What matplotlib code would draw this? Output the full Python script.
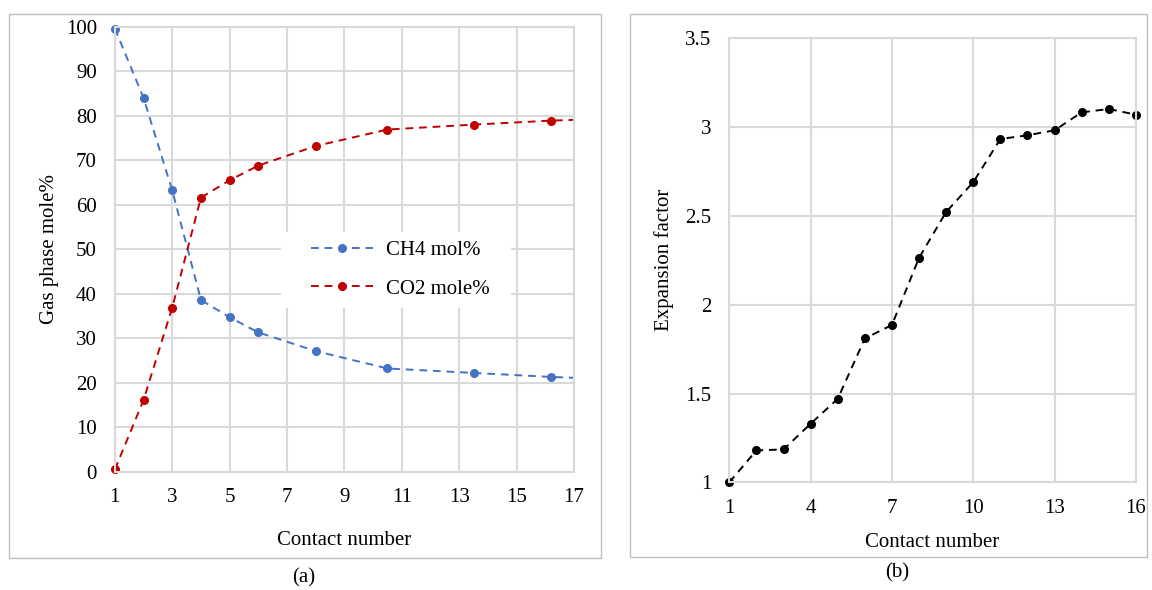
import matplotlib.pyplot as plt
from matplotlib.patches import Rectangle
import numpy as np

plt.rcParams['font.family'] = ['Liberation Serif', 'DejaVu Serif']
plt.rcParams['font.size'] = 15

# (a) gas phase composition vs contact number
contact_a = [1, 2, 3, 4, 5, 6, 8, 10.5, 13.5, 16.2, 19]
ch4 = [99.6, 84.0, 63.2, 38.6, 34.7, 31.3, 27.1, 23.2, 22.2, 21.3, 20.6]
co2 = [0.5, 16.1, 36.9, 61.6, 65.5, 68.8, 73.2, 76.9, 78.0, 78.9, 79.5]

# (b) expansion factor
contact_b = list(range(1, 17))
expansion = [1.0, 1.18, 1.185, 1.33, 1.47, 1.81, 1.886, 2.264, 2.522, 2.69,
             2.933, 2.954, 2.982, 3.083, 3.102, 3.07]

grid_c = '#d9d9d9'
blue = '#4472C4'
red = '#C00000'

fig = plt.figure(figsize=(11.52, 5.9), dpi=100)

# panel frames
fig.patches.append(Rectangle((8.5/1152, 1-558/590), (601-8.5)/1152, (558-13.5)/590,
                             transform=fig.transFigure, fill=False, ec='#bfbfbf', lw=1))
fig.patches.append(Rectangle((629.5/1152, 1-557/590), (1147-629.5)/1152, (557-13.5)/590,
                             transform=fig.transFigure, fill=False, ec='#bfbfbf', lw=1))

def style(ax):
    ax.grid(True, color=grid_c, lw=1.5)
    ax.set_axisbelow(True)
    for s in ax.spines.values():
        s.set_color(grid_c)
        s.set_linewidth(1.5)
    ax.tick_params(length=0, labelsize=15)

ax1 = fig.add_axes([0.0997, 0.2005, 0.3986, 0.7542])
style(ax1)
x = np.array(contact_a)
inside = x <= 17
ax1.plot(contact_a, ch4, ls='--', color=blue, lw=1.4, dashes=(4, 3))
ax1.plot(contact_a, co2, ls='--', color=red, lw=1.4, dashes=(4, 3))
ax1.plot(x[inside], np.array(ch4)[inside], 'o', color=blue, ms=5.5, clip_on=False)
ax1.plot(x[inside], np.array(co2)[inside], 'o', color=red, ms=5.5, clip_on=False)
h1, = ax1.plot([], [], ls='--', dashes=(4, 3), color=blue, lw=1.4, marker='o', ms=5.5)
h2, = ax1.plot([], [], ls='--', dashes=(4, 3), color=red, lw=1.4, marker='o', ms=5.5)
ax1.set_xlim(1, 17)
ax1.set_ylim(0, 100)
ax1.set_xticks(range(1, 18, 2))
ax1.set_yticks(range(0, 101, 10))
ax1.tick_params(axis='y', pad=13)
ax1.tick_params(axis='x', pad=12)
ax1.set_xlabel('Contact number', labelpad=17)
ax1.set_ylabel('Gas phase mole%', labelpad=5)
# white legend background
ax1.add_patch(Rectangle((0.362, 0.368), 0.501, 0.171, transform=ax1.transAxes,
                        fc='white', ec='none', zorder=1.5))
leg = ax1.legend([h1, h2], ['CH4 mol%', 'CO2 mole%'], loc='center',
                 bbox_to_anchor=(0.621, 0.454), handlelength=3.0, handletextpad=0.6,
                 labelspacing=0.9, frameon=False, borderaxespad=0)

ax2 = fig.add_axes([0.6331, 0.1825, 0.3529, 0.7526])
style(ax2)
ax2.plot(contact_b, expansion, ls='--', dashes=(4, 3), color='black', lw=1.4,
         marker='o', ms=5.5, clip_on=False)
ax2.set_xlim(1, 16)
ax2.set_ylim(1, 3.5)
ax2.set_xticks(range(1, 17, 3))
ax2.set_yticks([1, 1.5, 2, 2.5, 3, 3.5])
ax2.set_yticklabels(['1', '1.5', '2', '2.5', '3', '3.5'])
ax2.tick_params(axis='y', pad=13)
ax2.tick_params(axis='x', pad=12)
ax2.set_xlabel('Contact number', labelpad=11)
ax2.set_ylabel('Expansion factor', labelpad=8)

fig.text(304/1152, 1-578/590, '(a)', ha='center', va='center', fontsize=15)
fig.text(897/1152, 1-573/590, '(b)', ha='center', va='center', fontsize=15)

fig.savefig('out.png', dpi=100)
